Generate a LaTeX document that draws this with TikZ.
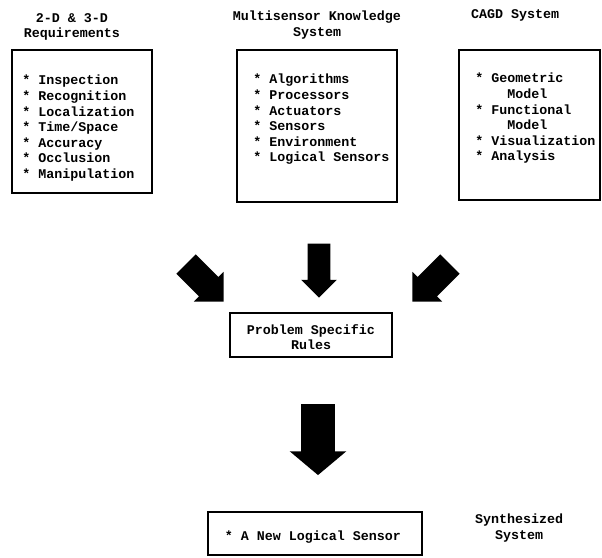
\documentclass[tikz,border=0pt]{standalone}
\usepackage{fontspec}
\setmainfont{Liberation Mono}
\usetikzlibrary{shapes.arrows}

\tikzset{
	box/.style={draw,rectangle,line width=1pt,inner sep=0pt},
	items/.style={align=left,anchor=north west,inner sep=0pt},
	fatarrow/.style={single arrow,fill=black,draw=none,inner xsep=0pt},
}

\begin{document}
\begin{tikzpicture}[x=0.75pt,y=-0.75pt,font=\fontsize{10}{11.7}\selectfont\bfseries]

	\useasboundingbox (0,0) rectangle (602,557);

	\begin{scope}[every node/.style={box}]
		\node[minimum width=140*0.75pt,minimum height=143*0.75pt] (require) at (82,121.5) {};
		\node[minimum width=160*0.75pt,minimum height=152*0.75pt] (knowledge) at (317,126) {};
		\node[minimum width=141*0.75pt,minimum height=150*0.75pt] (cagd) at (529.5,125) {};
		\node[minimum width=162*0.75pt,minimum height=44*0.75pt] (rules) at (311,335) {};
		\node[minimum width=214*0.75pt,minimum height=43*0.75pt] (sensor) at (315,533.5) {};
	\end{scope}

	\node[align=center] (requiretitle) at (72,27) {2-D \& 3-D\\Requirements};
	\node[align=center] (knowledgetitle) at (317,25) {Multisensor Knowledge\\System};
	\node (cagdtitle) at (515,15) {CAGD System};
	\node[align=center] (synthesized) at (519,528) {Synthesized\\System};

	\node[items] (requirelist) at (22,75) {* Inspection\\* Recognition\\* Localization\\* Time/Space\\* Accuracy\\* Occlusion\\* Manipulation};
	\node[items] (knowledgelist) at (253,74) {* Algorithms\\* Processors\\* Actuators\\* Sensors\\* Environment\\* Logical Sensors};
	\node[items] (cagdlist) at (475,73) {* Geometric\\\phantom{****}Model\\* Functional\\\phantom{****}Model\\* Visualization\\* Analysis};
	\node[align=center] (rulestext) at (311,337) {Problem Specific\\Rules};
	\node (sensortext) at (313,537) {* A New Logical Sensor};

	\begin{scope}[every node/.style={fatarrow}]
		\node[rotate=-45,minimum height=53*0.75pt,inner ysep=10.1pt,single arrow head extend=5.5pt] (leftarrow) at (200,278) {};
		\node[rotate=-90,minimum height=54*0.75pt,inner ysep=8.25pt,single arrow head extend=4.9pt] (midarrow) at (319,265) {};
		\node[rotate=-135,minimum height=53*0.75pt,inner ysep=10.1pt,single arrow head extend=5.5pt] (rightarrow) at (436,278) {};
		\node[rotate=-90,minimum height=71*0.75pt,inner ysep=12.4pt,single arrow head extend=8.6pt,single arrow tip angle=100] (bigarrow) at (318,432.5) {};
	\end{scope}

\end{tikzpicture}
\end{document}
